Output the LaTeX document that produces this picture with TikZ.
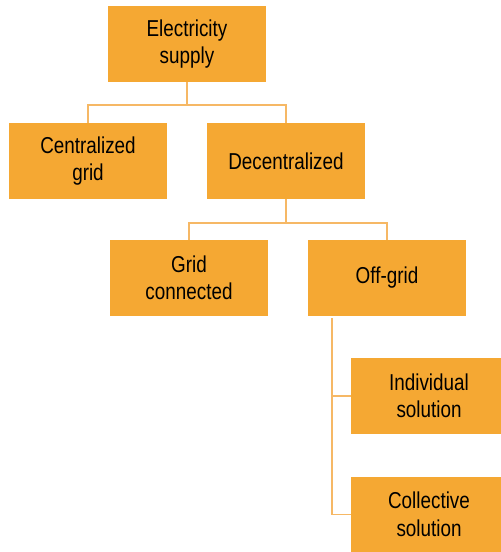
\documentclass[tikz,border=0pt]{standalone}
\usepackage{fontspec}
\setmainfont{Liberation Sans}[FakeStretch=0.82]
\definecolor{boxfill}{HTML}{F5A833}
\definecolor{linecol}{HTML}{F6B865}
\begin{document}
\begin{tikzpicture}[x=1pt,y=-1pt,
  box/.style={fill=boxfill,draw=none,inner sep=0pt,minimum height=76pt,align=center,
    font=\fontsize{23}{27.5}\selectfont,text=black},
  wide/.style={box,minimum width=158pt},
  narrow/.style={box,minimum width=150pt},
  conn/.style={draw=linecol,line width=1.4pt}]
\useasboundingbox (0,0) rectangle (501,552);
\node[wide] (es) at (187,44) {Electricity\\supply};
\node[wide] (cg) at (88,161) {Centralized\\grid};
\node[wide] (dc) at (286,161) {Decentralized};
\node[wide] (gc) at (189,278) {Grid\\connected};
\node[wide] (og) at (387,278) {Off-grid};
\node[narrow] (is) at (426,396) {\hspace*{6pt}Individual\\\hspace*{6pt}solution};
\node[narrow] (cs) at (426,514.5) {\hspace*{6pt}Collective\\\hspace*{6pt}solution};
\coordinate (j1) at (187,105);
\coordinate (j2) at (286,223);
\coordinate (j3) at (332,318);
\draw[conn] (es.south) -- (j1);
\draw[conn] (cg.north) |- (j1) -| (dc.north);
\draw[conn] (dc.south) -- (j2);
\draw[conn] (gc.north) |- (j2) -| (og.north);
\draw[conn] (j3) |- (is.west);
\draw[conn] (j3) |- (cs.west);
\end{tikzpicture}
\end{document}
